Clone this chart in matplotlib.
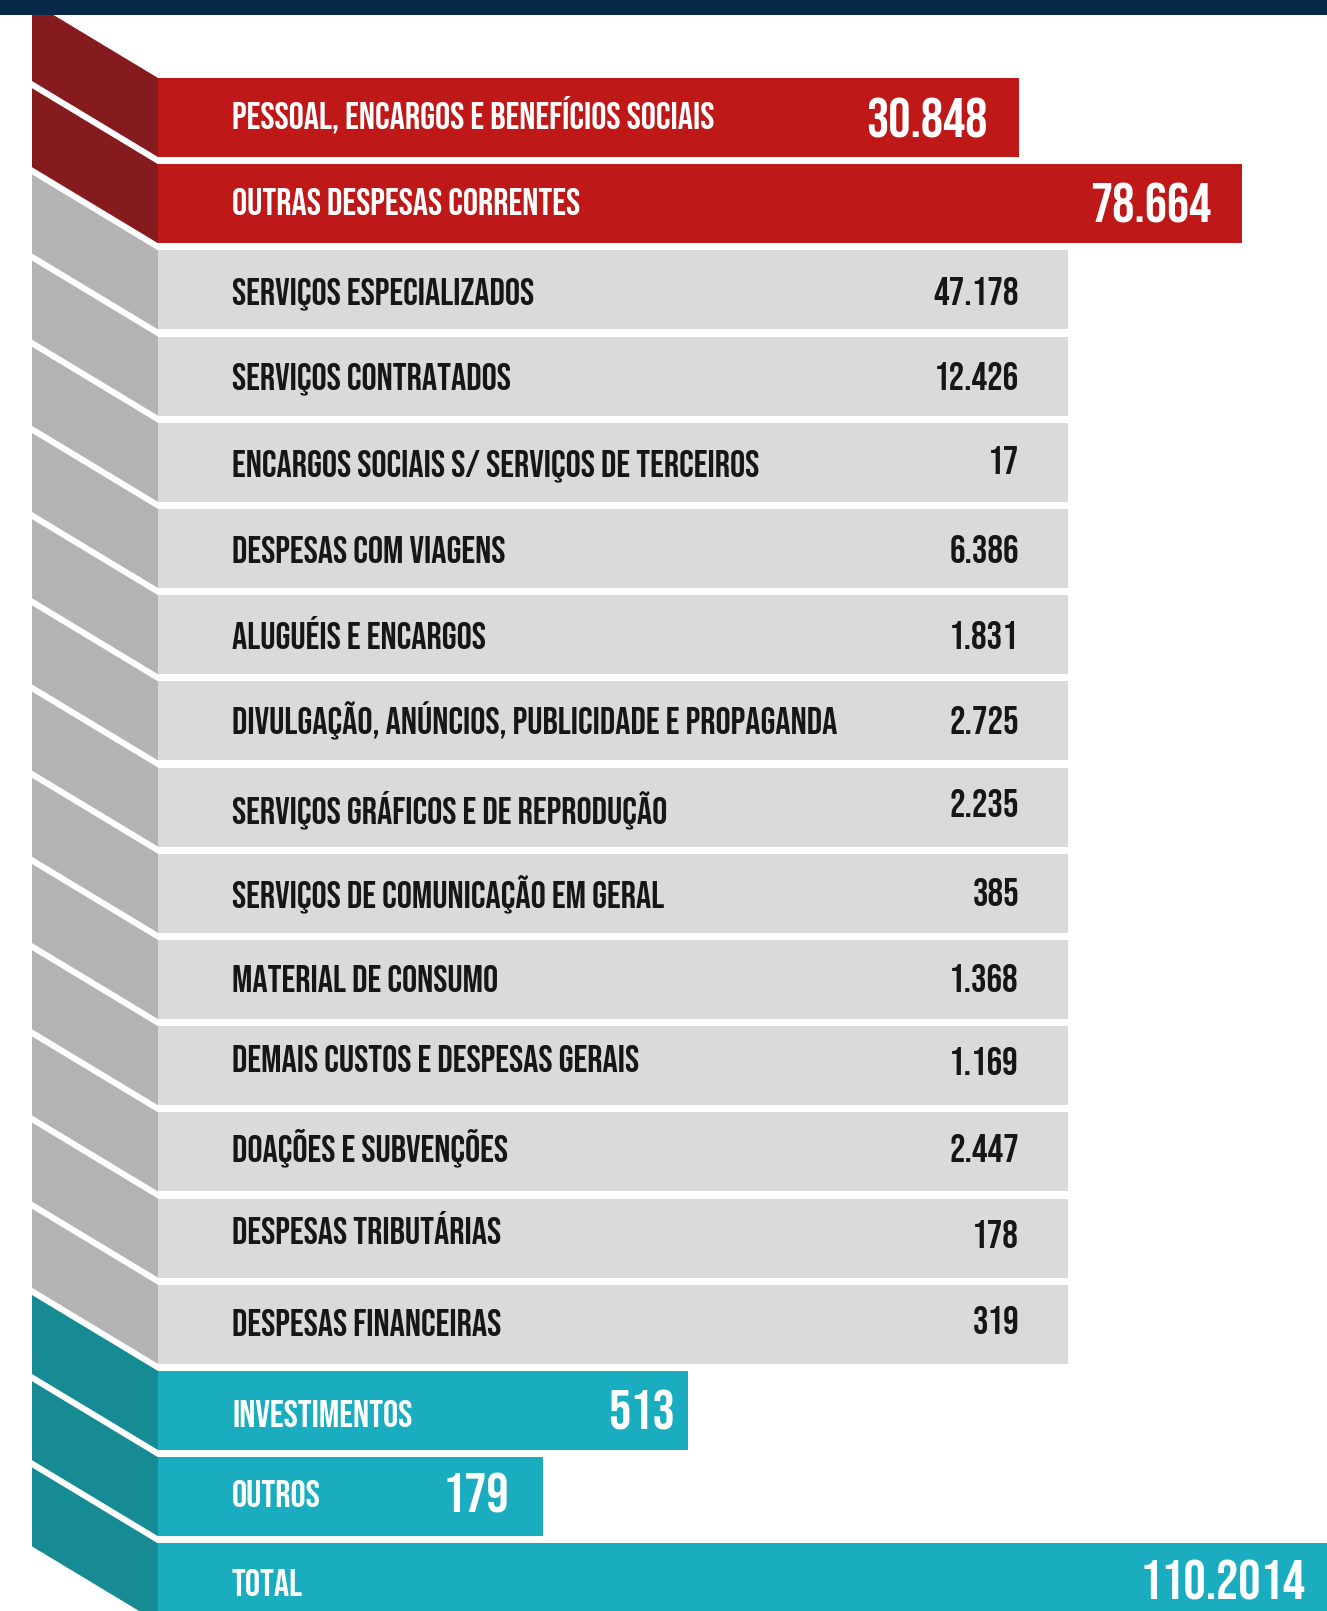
import os
import matplotlib
matplotlib.use('Agg')
import matplotlib.pyplot as plt
import numpy as np
from matplotlib import font_manager as fm
from matplotlib.patches import Polygon, Rectangle

# Data
labels = [
    'PESSOAL, ENCARGOS E BENEFÍCIOS SOCIAIS',
    'OUTRAS DESPESAS CORRENTES',
    'SERVIÇOS ESPECIALIZADOS',
    'SERVIÇOS CONTRATADOS',
    'ENCARGOS SOCIAIS S/ SERVIÇOS DE TERCEIROS',
    'DESPESAS COM VIAGENS',
    'ALUGUÉIS E ENCARGOS',
    'DIVULGAÇÃO, ANÚNCIOS, PUBLICIDADE E PROPAGANDA',
    'SERVIÇOS GRÁFICOS E DE REPRODUÇÃO',
    'SERVIÇOS DE COMUNICAÇÃO EM GERAL',
    'MATERIAL DE CONSUMO',
    'DEMAIS CUSTOS E DESPESAS GERAIS',
    'DOAÇÕES E SUBVENÇÕES',
    'DESPESAS TRIBUTÁRIAS',
    'DESPESAS FINANCEIRAS',
    'INVESTIMENTOS',
    'OUTROS',
    'TOTAL',
]
values = ['30.848', '78.664', '47.178', '12.426', '17', '6.386', '1.831',
          '2.725', '2.235', '385', '1.368', '1.169', '2.447', '178', '319',
          '513', '179', '110.2014']
groups = ['main', 'main'] + ['sub'] * 13 + ['other'] * 3

# Layout (pixels)
W, H = 1327, 1611
X_SIDE, X_BAR, X_LABEL = 32, 158, 232
TOP0, PITCH, BAR_H, SKEW = 78, 86.2, 79, 76
bar_ends = [1019, 1242] + [1068] * 13 + [688, 543, 1340]
value_x = [988, 1211] + [1019] * 13 + [676, 509, 1306]
# small vertical nudges of the texts, as in the original artwork
label_dy = [-2, -2, 1, 0, 1, 1, 1, -1, 3, 1, -1, -7, -4, -7, -2, 3, -3, 0]
value_dy = [1, -1, 1, 0, -2, 1, 1, -1, -4, -1, -1, -4, -4, -4, -4, 0, -4, -3]

palette = {
    'main': ('#bf1818', '#851a1f', 'white'),
    'sub': ('#dadada', '#b3b3b3', '#161616'),
    'other': ('#19adbf', '#168b93', 'white'),
}


def find_font(names):
    files = {os.path.basename(f.fname): f.fname for f in fm.fontManager.ttflist}
    for name in names:
        if name in files:
            return fm.FontProperties(fname=files[name])
    return fm.FontProperties(family='DejaVu Sans', weight='bold')


fp = find_font(['BebasNeue-Regular.ttf', 'Oswald[wght].ttf',
                'DejaVuSansCondensed-Bold.ttf'])
CAP = 0.70  # cap height / em

fig = plt.figure(figsize=(W / 100, H / 100), dpi=100)
ax = fig.add_axes([0, 0, 1, 1])
ax.set_xlim(0, W)
ax.set_ylim(H, 0)
ax.axis('off')

n = len(labels)
tops = TOP0 + PITCH * np.arange(n)
centers = tops + BAR_H / 2
bar_colors = [palette[g][0] for g in groups]
ax.barh(centers, np.array(bar_ends) - X_BAR, left=X_BAR, height=BAR_H,
        color=bar_colors, edgecolor='none')

# slanted side pieces
for top, g in zip(tops, groups):
    side = Polygon([(X_SIDE, top - SKEW), (X_BAR, top),
                    (X_BAR, top + BAR_H), (X_SIDE, top + BAR_H - SKEW)],
                   closed=True, facecolor=palette[g][1], edgecolor='none')
    ax.add_patch(side)

# navy band at the top
ax.add_patch(Rectangle((0, 0), W, 15, facecolor='#072848',
                       edgecolor='none', zorder=5))


def cap_px(size):
    return CAP * size * 100 / 72


for i in range(n):
    g = groups[i]
    tc = palette[g][2]
    lsize = 27.4
    vsize = 28 if g == 'sub' else 40
    ax.text(X_LABEL, centers[i] + cap_px(lsize) / 2 + label_dy[i], labels[i],
            color=tc, fontproperties=fp, fontsize=lsize,
            ha='left', va='baseline')
    ax.text(value_x[i], centers[i] + cap_px(vsize) / 2 + value_dy[i],
            values[i], color=tc, fontproperties=fp, fontsize=vsize,
            ha='right', va='baseline')

fig.savefig('out.png', dpi=100)
